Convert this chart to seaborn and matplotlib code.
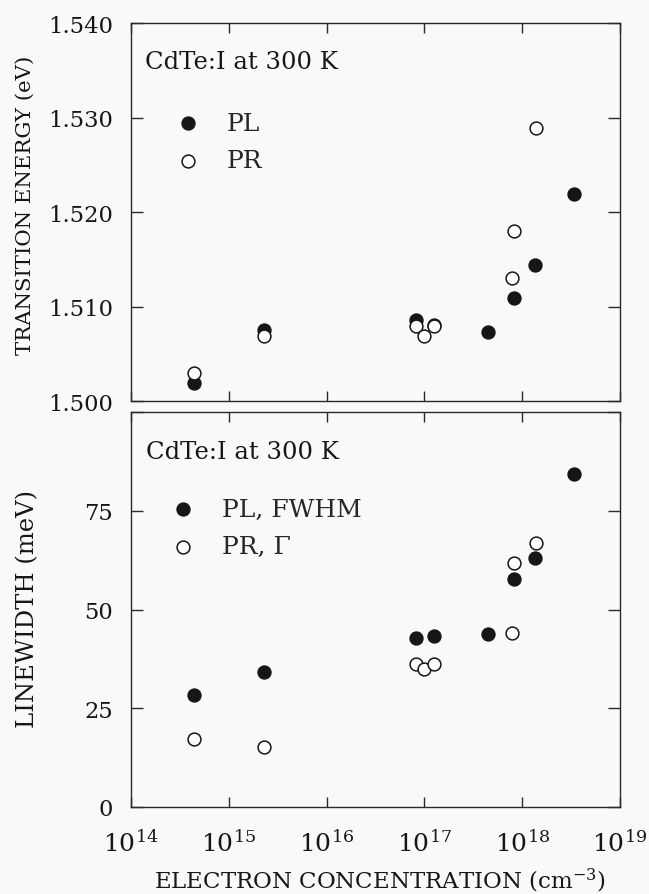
import numpy as np
import pandas as pd
import matplotlib
matplotlib.use("Agg")
import matplotlib.pyplot as plt
import seaborn as sns
from matplotlib.ticker import FixedLocator, NullLocator, LogFormatterSciNotation

# ---------------- data ----------------
pl_conc = [4.37e14, 2.29e15, 8.3e16, 1.26e17, 4.47e17, 8.2e17, 1.36e18, 3.35e18]
pl_energy = [1.5019, 1.5075, 1.5086, 1.5080, 1.5073, 1.5109, 1.5144, 1.5219]
pl_fwhm = [28.4, 34.1, 42.9, 43.3, 43.7, 57.6, 63.0, 84.4]

pr_conc = [4.37e14, 2.29e15, 8.3e16, 1.0e17, 1.25e17, 7.8e17, 8.2e17, 1.40e18]
pr_energy = [1.5030, 1.5069, 1.5079, 1.5069, 1.5079, 1.5130, 1.5180, 1.5289]
pr_gamma = [17.3, 15.2, 36.2, 34.9, 36.2, 44.1, 61.7, 66.8]

x_ticks = [1e14, 1e15, 1e16, 1e17, 1e18, 1e19]
e_ticks = [1.500, 1.510, 1.520, 1.530, 1.540]
e_ticklabels = ["1.500", "1.510", "1.520", "1.530", "1.540"]
w_ticks = [0, 25, 50, 75, 100]
w_ticklabels = ["0", "25", "50", "75", ""]

top_title = "CdTe:I at 300 K"
bottom_title = "CdTe:I at 300 K"
top_labels = ["PL", "PR"]
bottom_labels = ["PL, FWHM", "PR, \u0393"]

# ---------------- style ----------------
sns.set_theme(style="ticks")
plt.rcParams["font.family"] = ["DejaVu Serif"]
plt.rcParams["mathtext.fontset"] = "dejavuserif"
BG = "#f8f9fb"
INK = "#161616"

fig = plt.figure(figsize=(6.49, 8.95), dpi=100, facecolor=BG)
W, H = 649.0, 895.0
ax1 = fig.add_axes([131 / W, 1 - 402 / H, 489 / W, 378 / H])
ax2 = fig.add_axes([131 / W, 1 - 808 / H, 489 / W, 395 / H])

MS = 85
LW = 1.1

df_pl = pd.DataFrame({"n": pl_conc, "E": pl_energy, "w": pl_fwhm})
df_pr = pd.DataFrame({"n": pr_conc, "E": pr_energy, "w": pr_gamma})

sns.scatterplot(data=df_pl, x="n", y="E", ax=ax1, s=MS, color=INK,
                edgecolor=INK, linewidth=LW, label=top_labels[0], zorder=3)
sns.scatterplot(data=df_pr, x="n", y="E", ax=ax1, s=MS, color="white",
                edgecolor=INK, linewidth=LW, label=top_labels[1], zorder=4)

sns.scatterplot(data=df_pl, x="n", y="w", ax=ax2, s=MS, color=INK,
                edgecolor=INK, linewidth=LW, label=bottom_labels[0], zorder=3)
sns.scatterplot(data=df_pr, x="n", y="w", ax=ax2, s=MS, color="white",
                edgecolor=INK, linewidth=LW, label=bottom_labels[1], zorder=4)

for ax in (ax1, ax2):
    ax.set_facecolor(BG)
    ax.set_xscale("log")
    ax.set_xlim(1e14, 1e19)
    ax.xaxis.set_major_locator(FixedLocator(x_ticks))
    ax.xaxis.set_minor_locator(NullLocator())
    ax.xaxis.set_major_formatter(LogFormatterSciNotation())
    for sp in ax.spines.values():
        sp.set_visible(True)
        sp.set_linewidth(1.0)
        sp.set_color("#2a2a2a")
    ax.tick_params(axis="x", which="major", direction="in", top=True, bottom=True,
                   length=7, width=1.0, color="#2a2a2a", labelsize=18,
                   labelcolor=INK, pad=16)
    ax.tick_params(axis="y", which="major", direction="in", left=True, right=True,
                   length=8.5, width=1.0, color="#2a2a2a", labelsize=16.3,
                   labelcolor=INK, pad=13)
    ax.tick_params(axis="y", which="minor", left=False, right=False)

ax1.set_ylim(1.500, 1.540)
ax1.set_yticks(e_ticks)
ax1.set_yticklabels(e_ticklabels)
ax1.tick_params(axis="x", labelbottom=False)
ax1.set_xlabel("")

ax2.set_ylim(0, 100)
ax2.set_yticks(w_ticks)
ax2.set_yticklabels(w_ticklabels)

ax1.set_ylabel("TRANSITION ENERGY (eV)", fontsize=15.3, color=INK)
ax1.yaxis.label.set_va("center")
ax1.yaxis.set_label_coords(-0.217, 0.519)

ax2.set_ylabel("LINEWIDTH (meV)", fontsize=17.5, color=INK)
ax2.yaxis.label.set_va("center")
ax2.yaxis.set_label_coords(-0.211, 0.504)

ax2.set_xlabel("ELECTRON CONCENTRATION (cm$^{-3}$)", fontsize=16.5, color=INK)
ax2.xaxis.set_label_coords(0.509, -0.148)

ax1.text(0.029, 0.897, top_title, transform=ax1.transAxes, fontsize=17.5,
         va="center", ha="left", color=INK)
ax2.text(0.030, 0.899, bottom_title, transform=ax2.transAxes, fontsize=17.5,
         va="center", ha="left", color=INK)

leg_kw = dict(loc="upper left", frameon=False, fontsize=18, handlelength=1.0,
              handletextpad=1.05, labelspacing=0.58, borderpad=0, borderaxespad=0)
ax1.legend(bbox_to_anchor=(0.09, 0.765), **leg_kw)
ax2.legend(bbox_to_anchor=(0.081, 0.783), **leg_kw)

fig.savefig("out.png", dpi=100, facecolor=BG)
